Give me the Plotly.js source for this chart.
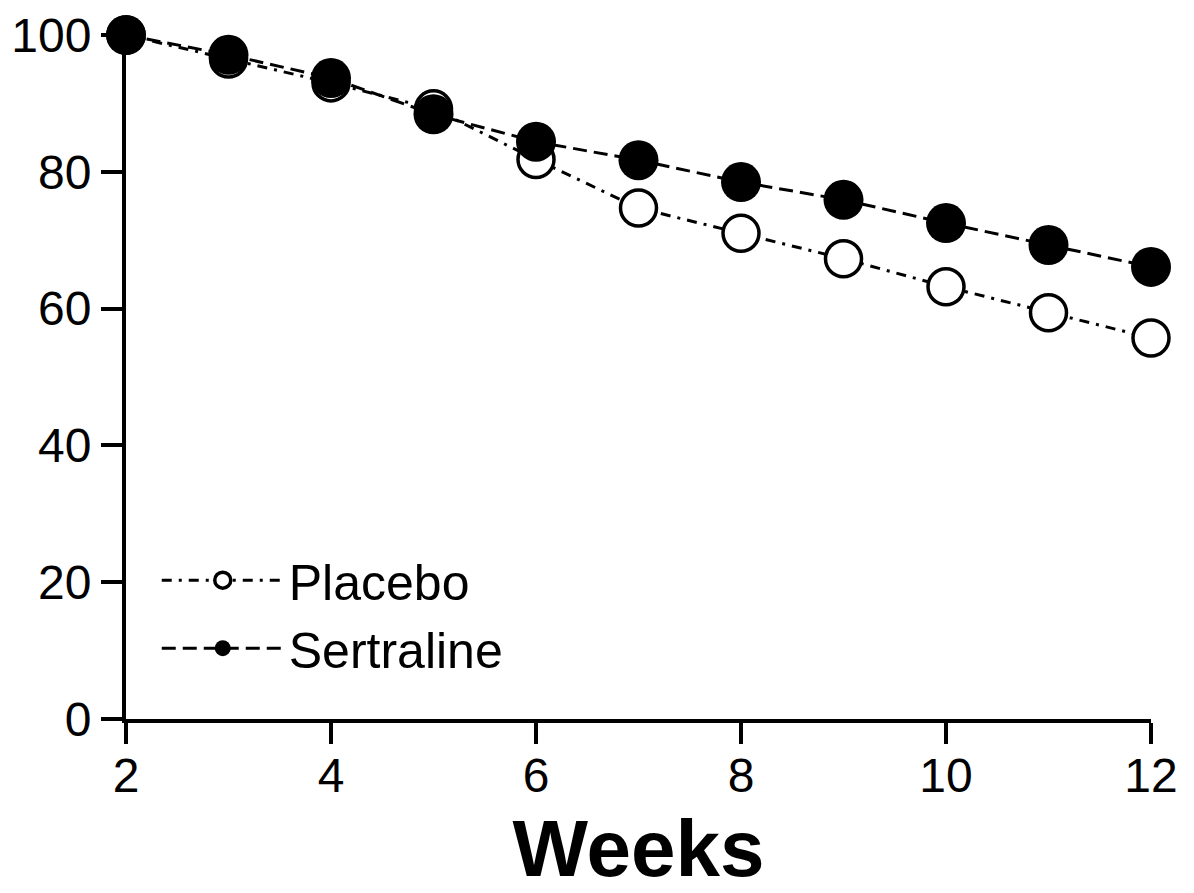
<!DOCTYPE html>
<html>
<head>
<meta charset="utf-8">
<script src="https://cdn.plot.ly/plotly-3.0.1.min.js"></script>
<style>html,body{margin:0;padding:0;background:#fff;}#chart{width:1194px;height:893px;}</style>
</head>
<body>
<div id="chart"></div>
<script>
const weeks = [2, 3, 4, 5, 6, 7, 8, 9, 10, 11, 12];
const placebo = [100, 96.5, 93.0, 89.2, 81.8, 74.7, 71.0, 67.3, 63.2, 59.4, 55.7];
const sertraline = [100, 97.1, 93.7, 88.4, 84.4, 81.7, 78.5, 75.9, 72.5, 69.3, 66.1];
const xTicks = [2, 4, 6, 8, 10, 12];
const yTicks = [0, 20, 40, 60, 80, 100];

const font = 'Liberation Sans, Arial, sans-serif';

const traces = [
  {
    x: weeks, y: placebo, name: 'Placebo', type: 'scatter', mode: 'lines+markers',
    cliponaxis: false,
    line: {color: '#000', width: 3, dash: '10px,7px,3px,7px'},
    marker: {symbol: 'circle', size: 36, color: '#fff', line: {color: '#000', width: 3.5}}
  },
  {
    x: weeks, y: sertraline, name: 'Sertraline', type: 'scatter', mode: 'lines+markers',
    cliponaxis: false,
    line: {color: '#000', width: 3, dash: '14px,7px'},
    marker: {symbol: 'circle', size: 40, color: '#000', line: {color: '#000', width: 0}}
  }
];

const layout = {
  width: 1194, height: 893,
  margin: {l: 126, r: 43, t: 35, b: 174},
  paper_bgcolor: '#fff', plot_bgcolor: '#fff',
  font: {family: font, color: '#000', size: 48},
  showlegend: true,
  legend: {
    x: 0.03, y: 0.26, xanchor: 'left', yanchor: 'top',
    bgcolor: 'rgba(0,0,0,0)', borderwidth: 0,
    font: {family: font, size: 50, color: '#000'},
    itemsizing: 'trace', itemwidth: 122
  },
  xaxis: {
    range: [2, 12], tickvals: xTicks, ticktext: xTicks.map(String),
    showgrid: false, zeroline: false, showline: true, linecolor: '#000', linewidth: 4,
    ticks: 'outside', ticklen: 21, tickwidth: 4, tickcolor: '#000',
    ticklabelstandoff: -10,
    tickfont: {family: font, size: 48, color: '#000'},
    title: {text: '<b>Weeks</b>', font: {family: font, size: 80, color: '#000'}, standoff: 40}
  },
  yaxis: {
    range: [0, 100], tickvals: yTicks, ticktext: yTicks.map(String),
    showgrid: false, zeroline: false, showline: true, linecolor: '#000', linewidth: 4,
    ticks: 'outside', ticklen: 21, tickwidth: 4, tickcolor: '#000',
    tickfont: {family: font, size: 48, color: '#000'}
  }
};

Plotly.newPlot('chart', traces, layout, {displayModeBar: false, staticPlot: true});
</script>
</body>
</html>
